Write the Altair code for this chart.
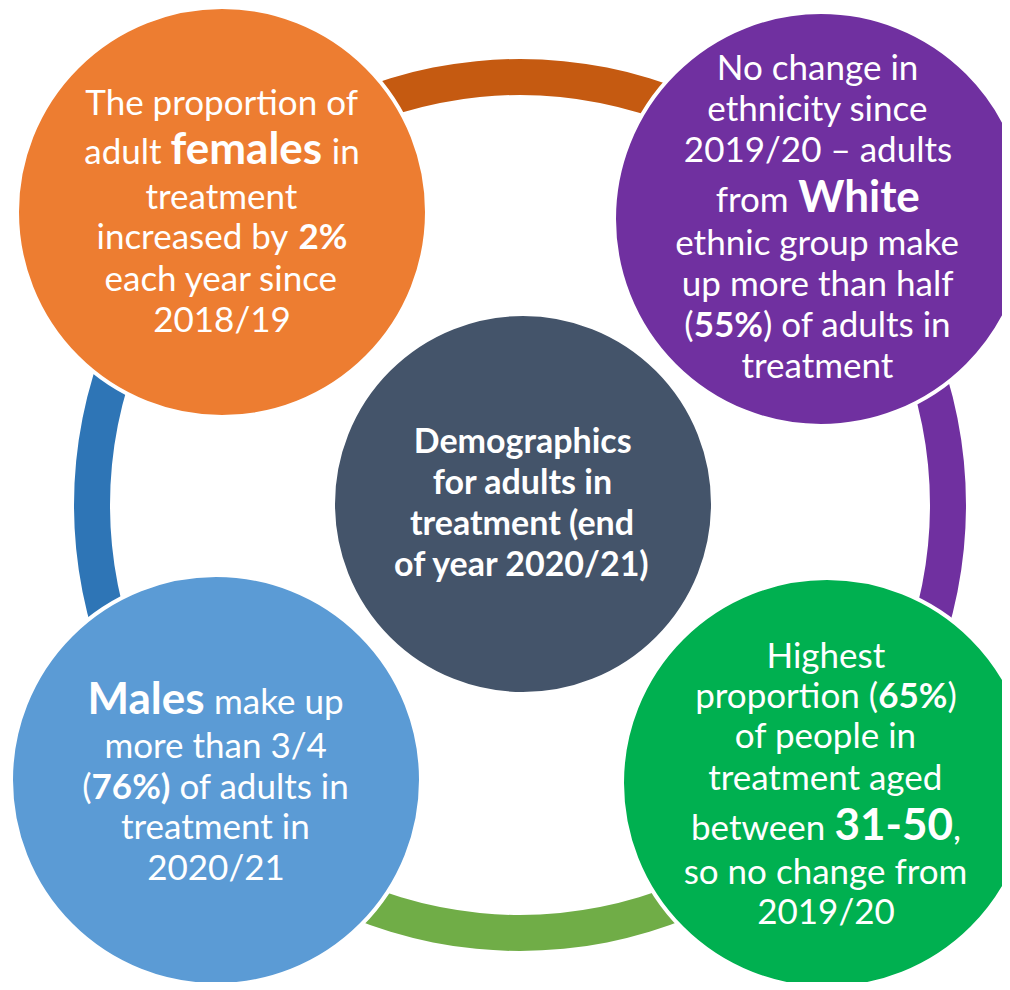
import altair as alt
import pandas as pd
import math, struct, glob, os

FONT = "Lato"
REG, BIG, CEN = 35, 44, 34

# ---------------- text content ----------------
orange_lines = [
    [("The proportion of", "r")],
    [("adult ", "r"), ("females", "B"), (" in", "r")],
    [("treatment", "r")],
    [("increased by ", "r"), ("2%", "b")],
    [("each year since", "r")],
    [("2018/19", "r")],
]
purple_lines = [
    [("No change in", "r")],
    [("ethnicity since", "r")],
    [("2019/20 \u2013 adults", "r")],
    [("from ", "r"), ("White", "B")],
    [("ethnic group make", "r")],
    [("up more than half", "r")],
    [("(", "r"), ("55%", "b"), (") of adults in", "r")],
    [("treatment", "r")],
]
blue_lines = [
    [("Males", "B"), (" make up", "r")],
    [("more than 3/4", "r")],
    [("(", "r"), ("76%)", "b"), (" of adults in", "r")],
    [("treatment in", "r")],
    [("2020/21", "r")],
]
green_lines = [
    [("Highest", "r")],
    [("proportion (", "r"), ("65%", "b"), (")", "r")],
    [("of people in", "r")],
    [("treatment aged", "r")],
    [("between ", "r"), ("31-50", "B"), (",", "r")],
    [("so no change from", "r")],
    [("2019/20", "r")],
]
center_lines = [
    [("Demographics", "c")],
    [("for adults in", "c")],
    [("treatment (end", "c")],
    [("of year 2020/21)", "c")],
]

# colours
circle_colors = ["#ED7D31", "#7030A0", "#5B9BD5", "#00B050", "#44546A"]
ring_colors = ["#C55A11", "#7030A0", "#70AD47", "#2E75B6"]  # top, right, bottom, left

# layout (image pixel coordinates)
circles = [  # cx, cy, r
    (222, 212, 205), (821, 219, 207), (216, 780, 205), (827, 783, 205), (523, 504, 190)
]
text_blocks = [  # lines, centre x, baselines
    (orange_lines, 222, [115, 164, 209, 249, 291, 332]),
    (purple_lines, 818, [80, 121, 162, 212, 255, 296, 337, 378]),
    (blue_lines, 216, [714, 758, 799, 839, 880]),
    (green_lines, 826, [668, 708, 748, 790, 840, 884, 924]),
    (center_lines, 523, [453, 494, 535, 576]),
]
RING = (520, 505, 410, 446)

# ---------------- font metrics ----------------
def parse_font(path):
    data = open(path, "rb").read()
    n = struct.unpack(">H", data[4:6])[0]
    tables = {}
    for i in range(n):
        tag, cs, off, ln = struct.unpack(">4sIII", data[12 + 16 * i: 28 + 16 * i])
        tables[tag.decode("latin1")] = off
    upem = struct.unpack(">H", data[tables["head"] + 18: tables["head"] + 20])[0]
    nh = struct.unpack(">H", data[tables["hhea"] + 34: tables["hhea"] + 36])[0]
    ho = tables["hmtx"]
    adv = [struct.unpack(">H", data[ho + 4 * i: ho + 4 * i + 2])[0] for i in range(nh)]
    co = tables["cmap"]
    nsub = struct.unpack(">H", data[co + 2: co + 4])[0]
    sub = None
    for i in range(nsub):
        pid, eid, so = struct.unpack(">HHI", data[co + 4 + 8 * i: co + 12 + 8 * i])
        fmt = struct.unpack(">H", data[co + so: co + so + 2])[0]
        if fmt == 4 and pid in (0, 3):
            sub = co + so
            break
    segx2 = struct.unpack(">H", data[sub + 6: sub + 8])[0]
    seg = segx2 // 2
    ends = struct.unpack(">%dH" % seg, data[sub + 14: sub + 14 + segx2])
    sp = sub + 16 + segx2
    starts = struct.unpack(">%dH" % seg, data[sp: sp + segx2])
    dp = sp + segx2
    deltas = struct.unpack(">%dh" % seg, data[dp: dp + segx2])
    rp = dp + segx2
    ranges = struct.unpack(">%dH" % seg, data[rp: rp + segx2])

    def glyph(c):
        for i in range(seg):
            if ends[i] >= c:
                if starts[i] > c:
                    return 0
                if ranges[i] == 0:
                    return (c + deltas[i]) & 0xFFFF
                addr = rp + 2 * i + ranges[i] + 2 * (c - starts[i])
                g = struct.unpack(">H", data[addr: addr + 2])[0]
                return (g + deltas[i]) & 0xFFFF if g else 0
        return 0

    def w(ch):
        g = glyph(ord(ch))
        return adv[min(g, nh - 1)] / upem
    return w


def find_font(name):
    roots = ["/usr/share/fonts", "/usr/local/share/fonts",
             os.path.expanduser("~/.fonts"), os.path.expanduser("~/.local/share/fonts")]
    for r in roots:
        hits = glob.glob(os.path.join(r, "**", name), recursive=True)
        if hits:
            try:
                return parse_font(hits[0])
            except Exception:
                return None
    return None


metrics = {False: find_font("Lato-Regular.ttf"), True: find_font("Lato-Bold.ttf")}


def fallback(ch):
    if ch in "il.,;:'!|": return 0.24
    if ch in "ftrj()/-": return 0.34
    if ch == " ": return 0.26
    if ch in "mw": return 0.8
    if ch in "MW%": return 0.9
    if ch.isupper(): return 0.66
    if ch.isdigit(): return 0.58
    return 0.52


def text_w(s, bold, size):
    m = metrics[bold] or fallback
    return sum(m(c) for c in s) * size


style = {"r": (False, REG), "b": (True, REG), "B": (True, BIG), "c": (True, CEN)}

rows = []
for lines, cx, ys in text_blocks:
    for segs, y in zip(lines, ys):
        total = sum(text_w(t, style[s][0], style[s][1]) for t, s in segs)
        cur = cx - total / 2
        for t, s in segs:
            bold, size = style[s]
            lead = len(t) - len(t.lstrip())
            rows.append({"x": cur + text_w(t[:lead], bold, size), "y": y,
                         "txt": t.strip(), "fs": size, "bold": bold})
            cur += text_w(t, bold, size)
tdf = pd.DataFrame(rows)

cdf = pd.DataFrame([{"x": c[0], "y": c[1], "s": (2 * c[2]) ** 2, "col": col}
                    for c, col in zip(circles, circle_colors)])

rx, ry, ri, ro = RING
rdf = pd.DataFrame([{"x": rx, "y": ry, "t1": math.radians(-45 + 90 * i),
                     "t2": math.radians(45 + 90 * i), "ro": ro, "ri": ri, "col": col}
                    for i, col in enumerate(ring_colors)])

X = alt.Scale(domain=[0, 1010], range=[-8, 1002])
Y = alt.Scale(domain=[0, 990], range=[-8, 982])
xe = alt.X("x:Q", scale=X, axis=None)
ye = alt.Y("y:Q", scale=Y, axis=None)

ring = alt.Chart(rdf).mark_arc().encode(
    x=xe, y=ye,
    theta=alt.Theta("t1:Q", scale=None, stack=False), theta2="t2:Q",
    radius=alt.Radius("ro:Q", scale=None), radius2="ri:Q",
    color=alt.Color("col:N", scale=None),
)
dots = alt.Chart(cdf).mark_circle(opacity=1, stroke="white", strokeWidth=4).encode(
    x=xe, y=ye, size=alt.Size("s:Q", scale=None), color=alt.Color("col:N", scale=None)
)
reg = alt.Chart(tdf[~tdf.bold]).mark_text(
    align="left", baseline="alphabetic", font=FONT, color="white").encode(
    x=xe, y=ye, text="txt:N", size=alt.Size("fs:Q", scale=None))
bld = alt.Chart(tdf[tdf.bold]).mark_text(
    align="left", baseline="alphabetic", font=FONT, color="white", fontWeight="bold").encode(
    x=xe, y=ye, text="txt:N", size=alt.Size("fs:Q", scale=None))

chart = alt.layer(ring, dots, reg, bld).properties(
    width=994, height=974, autosize="none", padding=0, background="white"
).configure_view(strokeWidth=0)

chart.save("out.html", embed_options={"renderer": "svg", "actions": False})
